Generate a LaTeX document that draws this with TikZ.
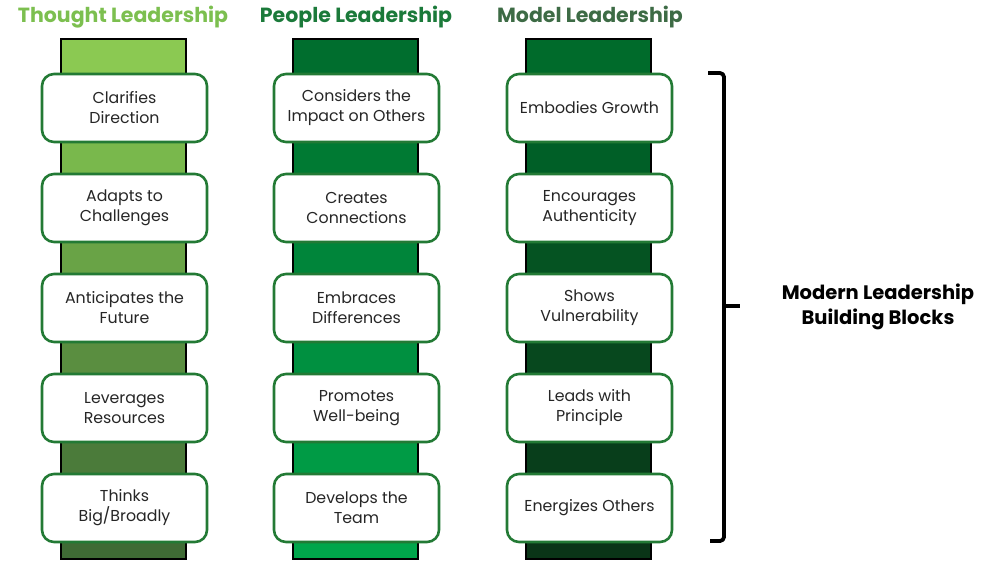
\documentclass[tikz,border=0pt]{standalone}
\usepackage{fontspec}
\setmainfont{Poppins}
\definecolor{hdrA}{HTML}{7CBF4F}
\definecolor{hdrB}{HTML}{1B7A3A}
\definecolor{hdrC}{HTML}{3D6B45}
\definecolor{boxline}{HTML}{237A35}
\definecolor{txt}{HTML}{262626}
\definecolor{a0}{HTML}{8BC952}\definecolor{a1}{HTML}{79B84C}\definecolor{a2}{HTML}{69A346}
\definecolor{a3}{HTML}{5A8E40}\definecolor{a4}{HTML}{4B7B3A}\definecolor{a5}{HTML}{3F6B35}
\definecolor{b0}{HTML}{006E2E}\definecolor{b1}{HTML}{007A33}\definecolor{b2}{HTML}{00853A}
\definecolor{b3}{HTML}{009040}\definecolor{b4}{HTML}{009B45}\definecolor{b5}{HTML}{00A64B}
\definecolor{c0}{HTML}{006B2B}\definecolor{c1}{HTML}{005F27}\definecolor{c2}{HTML}{055322}
\definecolor{c3}{HTML}{07481E}\definecolor{c4}{HTML}{083E1B}\definecolor{c5}{HTML}{0A3517}
\tikzset{
  x=1pt,y=-1pt,
  blockbox/.style={draw=boxline,line width=2.6pt,fill=white,rounded corners=12pt,
    minimum width=165pt,minimum height=68pt,align=center,text=txt,
    font=\fontsize{15.8}{20}\selectfont,inner sep=2pt},
  header/.style={font=\fontsize{20.5}{22}\selectfont\bfseries,anchor=center},
  barline/.style={draw=black,line width=1.6pt},
  brace/.style={draw=black,line width=3.8pt,line cap=butt,line join=round}
}
\begin{document}
\begin{tikzpicture}
\useasboundingbox (0,0) rectangle (987,566);
% headers
\node[header,text=hdrA] (hA) at (123,17) {Thought Leadership};
\node[header,text=hdrB] (hB) at (356,17) {People Leadership};
\node[header,text=hdrC] (hC) at (590,17) {Model Leadership};
% bars: segments
\foreach \xl/\p in {61/a,293/b,526/c}{
  \fill[\p0] (\xl,39) rectangle ++(125,40);
  \fill[\p1] (\xl,137) rectangle ++(125,42);
  \fill[\p2] (\xl,237) rectangle ++(125,42);
  \fill[\p3] (\xl,337) rectangle ++(125,42);
  \fill[\p4] (\xl,437) rectangle ++(125,42);
  \fill[\p5] (\xl,537) rectangle ++(125,22);
  \draw[barline] (\xl,39) rectangle ++(125,520);
}
% boxes column 1
\node[blockbox] (a1) at (124.5,108) {Clarifies\\Direction};
\node[blockbox] (a2) at (124.5,208) {Adapts to\\Challenges};
\node[blockbox] (a3) at (124.5,308) {Anticipates the\\Future};
\node[blockbox] (a4) at (124.5,408) {Leverages\\Resources};
\node[blockbox] (a5) at (124.5,508) {Thinks\\Big/Broadly};
% column 2
\node[blockbox] (b1) at (356.5,108) {Considers the\\Impact on Others};
\node[blockbox] (b2) at (356.5,208) {Creates\\Connections};
\node[blockbox] (b3) at (356.5,308) {Embraces\\Differences};
\node[blockbox] (b4) at (356.5,408) {Promotes\\Well-being};
\node[blockbox] (b5) at (356.5,508) {Develops the\\Team};
% column 3
\node[blockbox] (c1) at (589.5,108) {Embodies Growth};
\node[blockbox] (c2) at (589.5,208) {Encourages\\Authenticity};
\node[blockbox] (c3) at (589.5,308) {Shows\\Vulnerability};
\node[blockbox] (c4) at (589.5,408) {Leads with\\Principle};
\node[blockbox] (c5) at (589.5,508) {Energizes Others};
% bracket
\coordinate (bt) at (708,73);
\coordinate (bb) at (710,541);
\coordinate (bm) at (740,306);
\draw[brace,rounded corners=4pt] (bt) -- (724,73) -- (724,541) -- (bb);
\draw[brace] (724,306) -- (bm);
% label
\node[font=\fontsize{19.5}{25}\selectfont\bfseries,align=center,text=black] (lbl) at (878,307) {Modern Leadership\\Building Blocks};
\end{tikzpicture}
\end{document}
